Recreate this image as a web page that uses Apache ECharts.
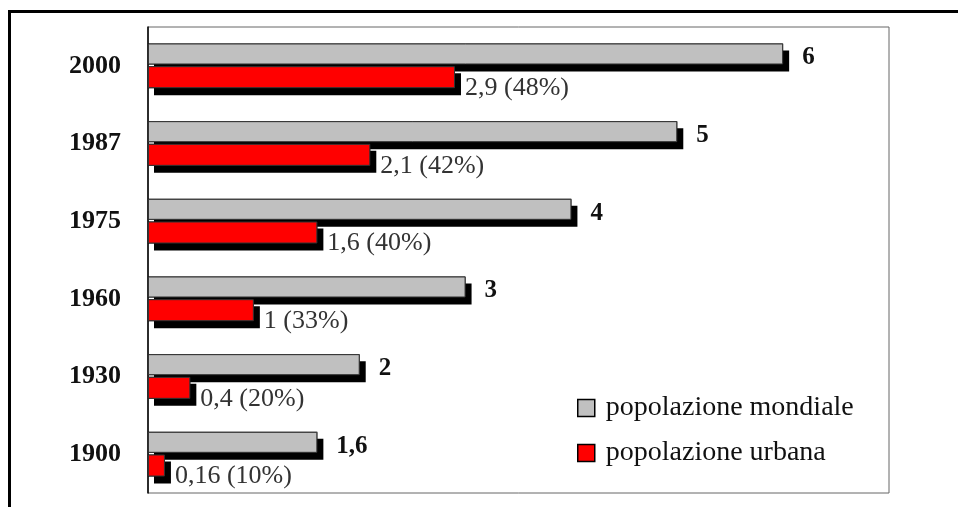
<!DOCTYPE html>
<html lang="it">
<head>
    <title>Popolazione mondiale e urbana</title>
    <meta charset="utf-8">
    <script src="https://cdn.jsdelivr.net/npm/echarts@6.0.0/dist/echarts.min.js"></script>
    <style>
        body {
            margin: 0;
            background: #fff;
        }

        #chart {
            width: 958px;
            height: 507px;
        }
    </style>
</head>
<body>
<div id="chart"></div>
<script>
    // anni (dal basso verso l'alto)
    const years = ['1900', '1930', '1960', '1975', '1987', '2000'];
    // miliardi di persone
    const worldPop = [1.6, 2, 3, 4, 5, 6];
    const urbanPop = [0.16, 0.4, 1, 1.6, 2.1, 2.9];
    const urbanPct = [10, 20, 33, 40, 42, 48];

    const serif = '"Liberation Serif", "DejaVu Serif", serif';

    function itNum(v) {
        return String(v).replace('.', ',');
    }

    // ombra nera spostata in basso a destra (solo riempimento, senza bordo)
    const shadowStyle = {
        color: '#000',
        borderWidth: 0,
        shadowColor: '#000',
        shadowBlur: 0,
        shadowOffsetX: 6,
        shadowOffsetY: 7
    };

    const chart = echarts.init(document.getElementById('chart'));
    const option = {
        animation: false,
        graphic: [{
            // cornice esterna (solo lato alto e sinistro visibili)
            type: 'rect',
            shape: {x: 9.5, y: 11.5, width: 1200, height: 800},
            style: {fill: 'none', stroke: '#000', lineWidth: 3},
            silent: true
        }],
        grid: {
            left: 148,
            top: 27,
            right: 69,
            bottom: 14,
            show: true,
            borderColor: '#666',
            borderWidth: 1
        },
        legend: {
            orient: 'vertical',
            left: 577,
            top: 394,
            padding: 0,
            itemWidth: 17,
            itemHeight: 17,
            itemGap: 17,
            icon: 'rect',
            data: ['popolazione mondiale', 'popolazione urbana'],
            itemStyle: {
                borderColor: '#000',
                borderWidth: 1.5
            },
            textStyle: {
                fontFamily: serif,
                fontSize: 28,
                lineHeight: 28,
                color: '#111',
                padding: [0, 0, 0, 6]
            }
        },
        xAxis: {
            type: 'value',
            min: 0,
            max: 7,
            show: false
        },
        yAxis: [{
            type: 'category',
            data: years,
            axisLine: {lineStyle: {color: '#000', width: 1.5}},
            axisTick: {show: false},
            axisLabel: {
                margin: 27,
                fontFamily: serif,
                fontWeight: 'bold',
                fontSize: 26,
                color: '#111'
            }
        }, {
            // asse gemello per le barre in primo piano
            type: 'category',
            data: years,
            position: 'left',
            show: false
        }],
        series: [{
            name: 'ombra mondiale',
            type: 'bar',
            yAxisIndex: 0,
            data: worldPop,
            barWidth: 21,
            barGap: '8%',
            itemStyle: shadowStyle,
            silent: true
        }, {
            name: 'ombra urbana',
            type: 'bar',
            yAxisIndex: 0,
            data: urbanPop,
            barWidth: 22,
            itemStyle: shadowStyle,
            silent: true
        }, {
            name: 'popolazione mondiale',
            type: 'bar',
            yAxisIndex: 1,
            data: worldPop,
            barWidth: 21,
            barGap: '8%',
            itemStyle: {
                color: '#c0c0c0',
                borderColor: '#333',
                borderWidth: 1
            },
            label: {
                show: true,
                position: 'right',
                distance: 19,
                offset: [0, 4],
                fontFamily: serif,
                fontWeight: 'bold',
                fontSize: 25,
                color: '#111',
                formatter: function (p) {
                    return itNum(p.value);
                }
            }
        }, {
            name: 'popolazione urbana',
            type: 'bar',
            yAxisIndex: 1,
            data: urbanPop,
            barWidth: 22,
            itemStyle: {
                color: '#ff0000',
                borderColor: '#333',
                borderWidth: 1
            },
            label: {
                show: true,
                position: 'right',
                distance: 10,
                offset: [0, 11],
                fontFamily: serif,
                fontSize: 26,
                color: '#333',
                formatter: function (p) {
                    return itNum(p.value) + ' (' + urbanPct[p.dataIndex] + '%)';
                }
            }
        }]
    };
    chart.setOption(option);
</script>
</body>
</html>
